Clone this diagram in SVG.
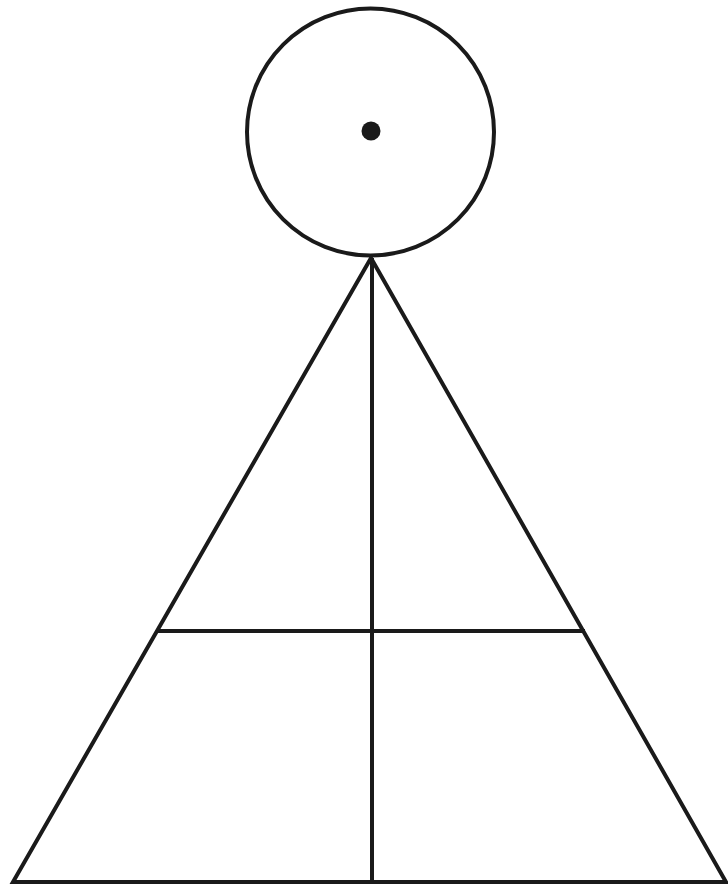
<svg xmlns="http://www.w3.org/2000/svg" width="728" height="886" viewBox="0 0 728 886">
<style>
.s{fill:none;stroke:#1a1a1a;stroke-width:4;stroke-linecap:butt;stroke-linejoin:miter}
</style>
<rect width="728" height="886" fill="#ffffff"/>
<g id="head">
<circle class="s" cx="370.5" cy="132" r="123.5"/>
<circle cx="371" cy="131" r="9.5" fill="#1a1a1a"/>
</g>
<g id="body">
<polygon class="s" points="371,258 13,882 726,882"/>
</g>
<g id="connectors">
<line class="s" x1="372" y1="258" x2="372" y2="882"/>
<line class="s" x1="157" y1="631" x2="585" y2="631"/>
</g>
</svg>
